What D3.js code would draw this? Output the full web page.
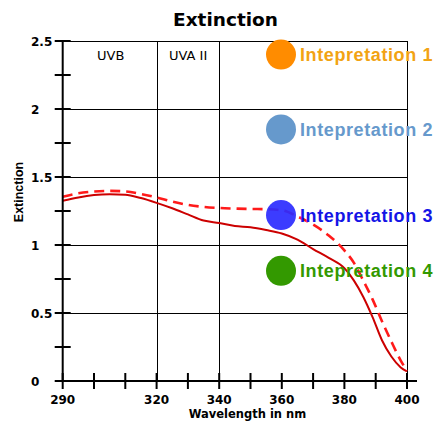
<!DOCTYPE html>
<html><head><meta charset="utf-8">
<script src="https://cdn.jsdelivr.net/npm/d3@7"></script>
<style>html,body{margin:0;padding:0;background:#fff;}svg{display:block;}</style>
</head><body>
<script>
const wavelengths = [290,295,300,305,310,315,320,325,330,335,340,345,350,355,360,365,370,375,380,383,386,389,392,395,398,400];
const solidValues = [1.325,1.35,1.367,1.373,1.37,1.345,1.31,1.27,1.225,1.18,1.162,1.14,1.13,1.11,1.085,1.04,0.97,0.905,0.83,0.74,0.62,0.47,0.3,0.18,0.1,0.07];
const dashedValues = [1.355,1.38,1.393,1.398,1.394,1.375,1.35,1.32,1.295,1.28,1.272,1.268,1.265,1.263,1.255,1.21,1.15,1.07,0.96,0.87,0.74,0.6,0.44,0.29,0.15,0.075];
const xTickLabels = [290,320,340,360,380,400];
const xMinorTicks = [290,300,310,320,330,340,350,360,370,380,390,400];
const yTickLabels = [0,0.5,1,1.5,2,2.5];
const yMinorTicks = [0,0.25,0.5,0.75,1,1.25,1.5,1.75,2,2.25,2.5];
const yGrid = [0.5,1,1.5,2,2.5];
const xGrid = [320,340,400];
const bandLabels = ["UVB","UVA II"];
const bandPositions = [97,169];
const legendLabels = ["Intepretation 1","Intepretation 2","Intepretation 3","Intepretation 4"];
const legendValues = [2.4,1.85,1.22,0.81];
const legendCircleColors = ["#ff8c00","#6699cc","#2b2bff","#339900"];
const legendTextColors = ["#f2a313","#6699cc","#1414e6","#339900"];

const W=436,H=423;
const svg=d3.select("body").append("svg").attr("width",W).attr("height",H);
const x=d3.scaleLinear().domain([290,400]).range([62.7,407]);
const y=d3.scaleLinear().domain([0,2.5]).range([381,41]);

// title
svg.append("text").attr("x",225.5).attr("y",26).attr("text-anchor","middle")
  .attr("font-family","DejaVu Sans").attr("font-weight","bold").attr("font-size",18.5).text("Extinction");

// grid
svg.append("g").selectAll("line").data(yGrid).join("line")
  .attr("x1",x(290)).attr("x2",x(400)).attr("y1",d=>Math.round(y(d))+0.5).attr("y2",d=>Math.round(y(d))+0.5)
  .attr("stroke","#000").attr("stroke-width",1);
svg.append("g").selectAll("line").data(xGrid).join("line")
  .attr("x1",d=>Math.round(x(d))+0.5).attr("x2",d=>Math.round(x(d))+0.5).attr("y1",y(2.5)).attr("y2",y(0))
  .attr("stroke","#000").attr("stroke-width",1);

// band labels
svg.append("g").selectAll("text").data(bandLabels).join("text")
  .attr("x",(d,i)=>bandPositions[i]).attr("y",60)
  .attr("font-family","DejaVu Sans").attr("font-size",13).attr("fill","#000").text(d=>d);

// lines
const line=d3.line().x((d,i)=>x(wavelengths[i])).y(d=>y(d)).curve(d3.curveMonotoneX);
svg.append("path").datum(solidValues).attr("d",line).attr("fill","none").attr("stroke","#cc0000").attr("stroke-width",2);
svg.append("path").datum(dashedValues).attr("d",line).attr("fill","none").attr("stroke","#ff1a1a").attr("stroke-width",2.6).attr("stroke-dasharray","10,6");

// axes
const axG=svg.append("g");
axG.append("line").attr("x1",x(290)).attr("x2",x(290)).attr("y1",y(2.5)-1).attr("y2",y(0)+1).attr("stroke","#000").attr("stroke-width",2);
axG.append("line").attr("x1",x(290)-7).attr("x2",417).attr("y1",y(0)).attr("y2",y(0)).attr("stroke","#000").attr("stroke-width",2);
axG.selectAll(".yt").data(yMinorTicks).join("line").attr("class","yt")
  .attr("x1",x(290)-8).attr("x2",x(290)+8).attr("y1",d=>y(d)).attr("y2",d=>y(d)).attr("stroke","#000").attr("stroke-width",2);
axG.selectAll(".xt").data(xMinorTicks).join("line").attr("class","xt")
  .attr("x1",d=>x(d)).attr("x2",d=>x(d)).attr("y1",y(0)-8).attr("y2",y(0)+8).attr("stroke","#000").attr("stroke-width",2);
axG.selectAll(".yl").data(yTickLabels).join("text").attr("class","yl")
  .attr("x",31).attr("y",d=>y(d)+4.5).attr("font-family","DejaVu Sans").attr("font-weight","bold").attr("font-size",12).text(d=>d);
axG.selectAll(".xl").data(xTickLabels).join("text").attr("class","xl")
  .attr("x",d=>x(d)).attr("y",404).attr("text-anchor","middle").attr("font-family","DejaVu Sans").attr("font-weight","bold").attr("font-size",12).text(d=>d);
svg.append("text").attr("x",247.5).attr("y",418).attr("text-anchor","middle")
  .attr("font-family","DejaVu Sans").attr("font-weight","bold").attr("font-size",11.5).text("Wavelength in nm");
svg.append("text").attr("transform","translate(23,192) rotate(-90)").attr("text-anchor","middle")
  .attr("font-family","Liberation Sans").attr("font-weight","bold").attr("font-size",12.5).text("Extinction");

// legend
const lg=svg.append("g");
lg.selectAll("circle").data(legendValues).join("circle")
  .attr("cx",281).attr("cy",d=>y(d)).attr("r",15).attr("fill",(d,i)=>legendCircleColors[i]).attr("fill-opacity",(d,i)=>i===2?0.92:1);
lg.selectAll("text").data(legendLabels).join("text")
  .attr("x",300).attr("y",(d,i)=>y(legendValues[i])+6.5)
  .attr("font-family","Liberation Sans").attr("font-weight","bold").attr("font-size",18).attr("letter-spacing",0.6)
  .attr("fill",(d,i)=>legendTextColors[i]).text(d=>d);
</script>
</body></html>
